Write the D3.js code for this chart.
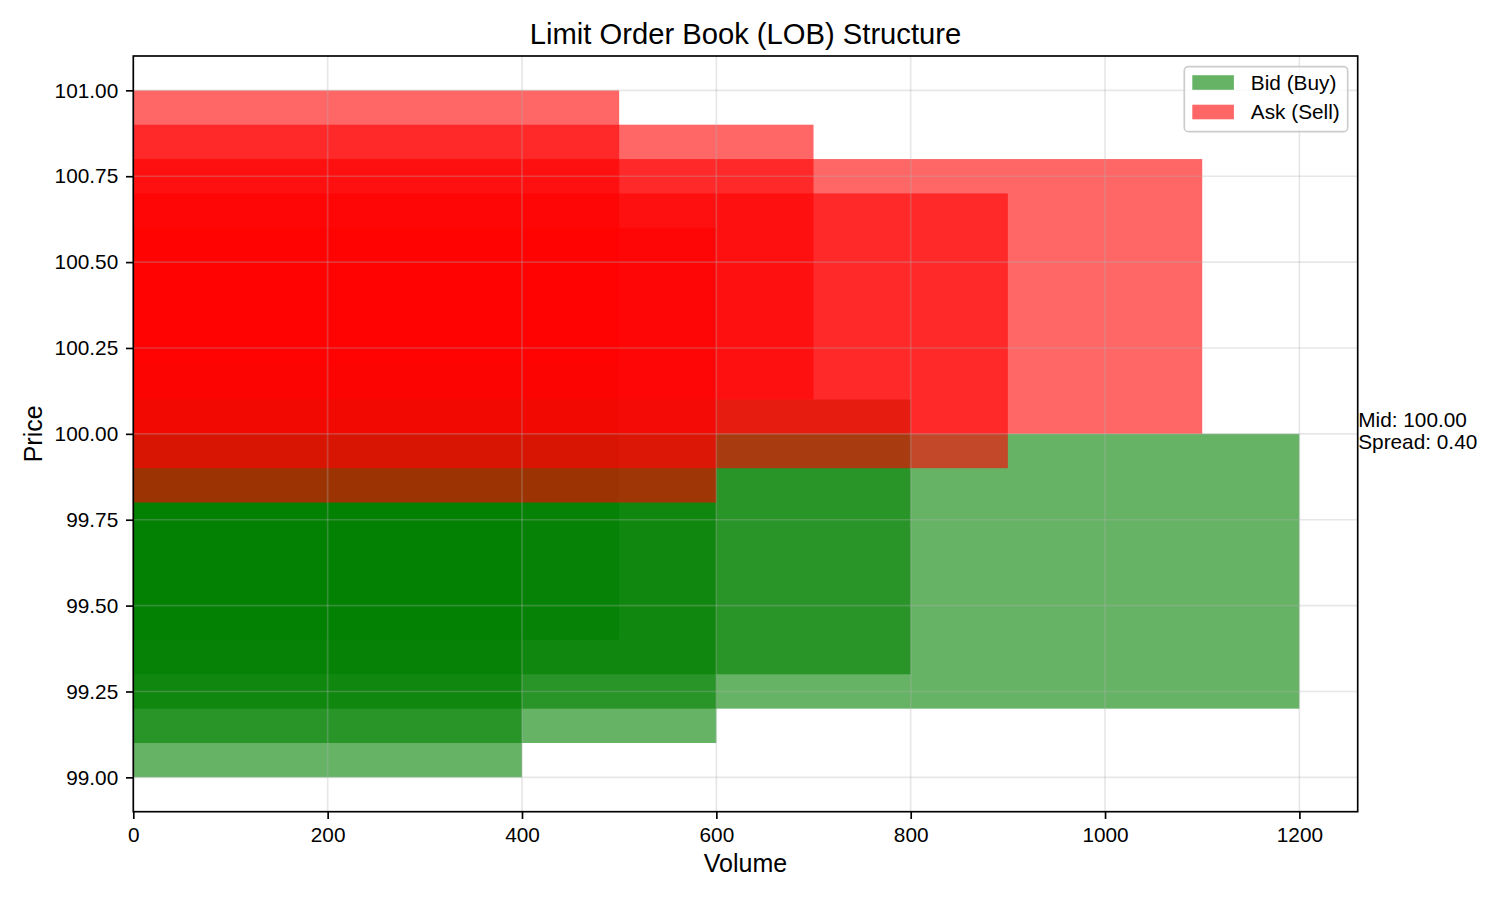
<!DOCTYPE html>
<html>
<head>
<meta charset="utf-8">
<script src="https://cdn.jsdelivr.net/npm/d3@7"></script>
<style>
  html, body { margin: 0; padding: 0; background: #ffffff; }
  svg { display: block; font-family: "Liberation Sans", Arial, Helvetica, sans-serif; }
</style>
</head>
<body>
<svg id="chart" width="1500" height="900"></svg>
<script>
// ---- data ----
const bidPrices  = [99.8, 99.7, 99.6, 99.5, 99.4];
const bidVolumes = [500, 800, 1200, 600, 400];
const askPrices  = [100.2, 100.3, 100.4, 100.5, 100.6];
const askVolumes = [600, 900, 1100, 700, 500];
const xTicks = [0, 200, 400, 600, 800, 1000, 1200];
const yTicks = [99.00, 99.25, 99.50, 99.75, 100.00, 100.25, 100.50, 100.75, 101.00];
const seriesNames = ["Bid (Buy)", "Ask (Sell)"];
const titleText = "Limit Order Book (LOB) Structure";
const xLabelText = "Volume";
const yLabelText = "Price";

(function () {
// ---- layout ----
const W = 1500, H = 900;
const pL = 133.3, pR = 1357.7, pT = 56, pB = 811.7;
const barH = 0.8;
const green = "#008000", red = "#ff0000", alpha = 0.6;

const bestBid = d3.max(bidPrices), bestAsk = d3.min(askPrices);
const mid = (bestBid + bestAsk) / 2, spread = bestAsk - bestBid;
const xMax = d3.max(bidVolumes.concat(askVolumes)) * 1.05;

const x = d3.scaleLinear().domain([0, xMax]).range([pL, pR]);
const y = d3.scaleLinear().domain([98.9, 101.1]).range([pB, pT]);

const svg = d3.select("#chart");
svg.append("rect").attr("width", W).attr("height", H).attr("fill", "#fff");

svg.append("clipPath").attr("id", "clip").append("rect")
  .attr("x", pL).attr("y", pT).attr("width", pR - pL).attr("height", pB - pT);
const bars = svg.append("g").attr("clip-path", "url(#clip)");

const bids = bidPrices.map((p, i) => ({p, v: bidVolumes[i]}));
const asks = askPrices.map((p, i) => ({p, v: askVolumes[i]}));

bars.selectAll("rect.bid").data(bids).enter().append("rect")
  .attr("class", "bid")
  .attr("x", x(0))
  .attr("y", d => y(d.p + barH / 2))
  .attr("width", d => x(d.v) - x(0))
  .attr("height", d => y(d.p - barH / 2) - y(d.p + barH / 2))
  .attr("fill", green).attr("fill-opacity", alpha);

bars.selectAll("rect.ask").data(asks).enter().append("rect")
  .attr("class", "ask")
  .attr("x", x(0))
  .attr("y", d => y(d.p + barH / 2))
  .attr("width", d => x(d.v) - x(0))
  .attr("height", d => y(d.p - barH / 2) - y(d.p + barH / 2))
  .attr("fill", red).attr("fill-opacity", alpha);

// grid (above bars, like matplotlib)
const grid = svg.append("g");
grid.selectAll("line.gx").data(xTicks).enter().append("line")
  .attr("x1", d => x(d)).attr("x2", d => x(d))
  .attr("y1", pT).attr("y2", pB)
  .attr("stroke", "#b0b0b0").attr("stroke-opacity", 0.3).attr("stroke-width", 1.67);
grid.selectAll("line.gy").data(yTicks).enter().append("line")
  .attr("y1", d => y(d)).attr("y2", d => y(d))
  .attr("x1", pL).attr("x2", pR)
  .attr("stroke", "#b0b0b0").attr("stroke-opacity", 0.3).attr("stroke-width", 1.67);

// axes
const xAxis = d3.axisBottom(x).tickValues(xTicks).tickFormat(d3.format("d"))
  .tickSizeInner(7.3).tickSizeOuter(0).tickPadding(7.8);
const yAxis = d3.axisLeft(y).tickValues(yTicks).tickFormat(d3.format(".2f"))
  .tickSizeInner(7.3).tickSizeOuter(0).tickPadding(7.8);

const gx = svg.append("g").attr("transform", `translate(0,${pB})`).call(xAxis);
const gy = svg.append("g").attr("transform", `translate(${pL},0)`).call(yAxis);
[gx, gy].forEach(g => {
  g.select(".domain").remove();
  g.selectAll("line").attr("stroke", "#000").attr("stroke-width", 1.67);
  g.selectAll("text").attr("fill", "#000").attr("font-size", 20.8)
    .attr("font-family", "'Liberation Sans', Arial, sans-serif");
});

// spines
svg.append("rect")
  .attr("x", pL).attr("y", pT).attr("width", pR - pL).attr("height", pB - pT)
  .attr("fill", "none").attr("stroke", "#000").attr("stroke-width", 1.67);

// title and labels
svg.append("text").attr("x", (pL + pR) / 2).attr("y", 44)
  .attr("text-anchor", "middle").attr("font-size", 29.2).attr("fill", "#000")
  .text(titleText);
svg.append("text").attr("x", (pL + pR) / 2).attr("y", 872)
  .attr("text-anchor", "middle").attr("font-size", 25).attr("fill", "#000")
  .text(xLabelText);
svg.append("text")
  .attr("transform", `translate(42,${(pT + pB) / 2}) rotate(-90)`)
  .attr("text-anchor", "middle").attr("font-size", 25).attr("fill", "#000")
  .text(yLabelText);

// mid / spread annotation
const ann = svg.append("text").attr("x", x(xMax) + 0.5).attr("font-size", 20.8).attr("fill", "#000");
ann.append("tspan").attr("x", x(xMax) + 0.5).attr("y", y(mid) - 6.5).text(`Mid: ${mid.toFixed(2)}`);
ann.append("tspan").attr("x", x(xMax) + 0.5).attr("y", y(mid) + 15.5).text(`Spread: ${spread.toFixed(2)}`);

// legend
const lgW = 163.4, lgH = 65, lgX = pR - 10 - lgW, lgY = pT + 10.7;
const lg = svg.append("g");
lg.append("rect").attr("x", lgX).attr("y", lgY).attr("width", lgW).attr("height", lgH)
  .attr("rx", 4).attr("ry", 4)
  .attr("fill", "#fff").attr("fill-opacity", 0.8)
  .attr("stroke", "#cccccc").attr("stroke-width", 1.67);
const lgColors = [green, red];
seriesNames.forEach((name, i) => {
  const cy = lgY + 15.8 + i * 29.5;
  lg.append("rect").attr("x", lgX + 8).attr("y", cy - 7.3).attr("width", 41.6).attr("height", 14.6)
    .attr("fill", lgColors[i]).attr("fill-opacity", alpha);
  lg.append("text").attr("x", lgX + 66.5).attr("y", cy + 7.4)
    .attr("font-size", 20.8).attr("fill", "#000").text(name);
});
})();
</script>
</body>
</html>
